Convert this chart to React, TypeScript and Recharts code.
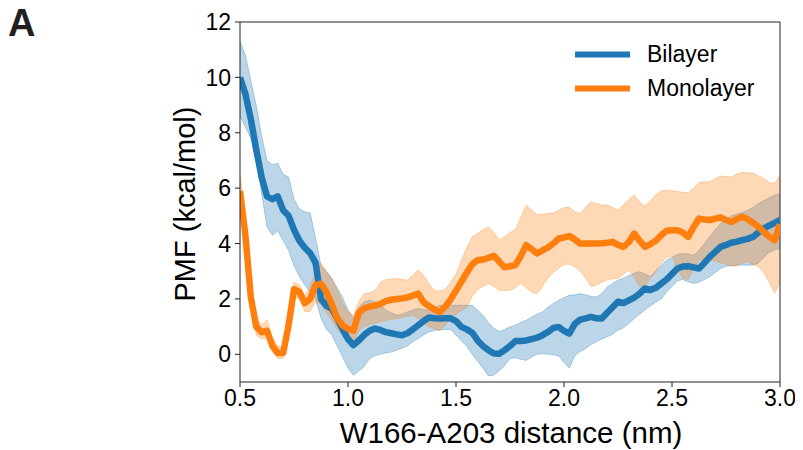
import { ComposedChart, Area, Line, XAxis, YAxis, ReferenceLine } from "recharts";

// W166-A203 distance grid (nm)
const distance = [
  0.5, 0.525, 0.55, 0.575, 0.6, 0.625, 0.65, 0.675, 0.7, 0.725,
  0.75, 0.775, 0.8, 0.825, 0.85, 0.875, 0.9, 0.925, 0.95, 0.975,
  1.0, 1.025, 1.05, 1.075, 1.1, 1.125, 1.15, 1.175, 1.2, 1.225,
  1.25, 1.275, 1.3, 1.325, 1.35, 1.375, 1.4, 1.425, 1.45, 1.475,
  1.5, 1.525, 1.55, 1.575, 1.6, 1.625, 1.65, 1.675, 1.7, 1.725,
  1.75, 1.775, 1.8, 1.825, 1.85, 1.875, 1.9, 1.925, 1.95, 1.975,
  2.0, 2.025, 2.05, 2.075, 2.1, 2.125, 2.15, 2.175, 2.2, 2.225,
  2.25, 2.275, 2.3, 2.325, 2.35, 2.375, 2.4, 2.425, 2.45, 2.475,
  2.5, 2.525, 2.55, 2.575, 2.6, 2.625, 2.65, 2.675, 2.7, 2.725,
  2.75, 2.775, 2.8, 2.825, 2.85, 2.875, 2.9, 2.925, 2.95, 2.975,
  3.0,
];

// PMF (kcal/mol)
const bilayer = [
  10.0, 9.4, 8.5, 7.4, 6.4, 5.7, 5.6, 5.7, 5.2, 5.0,
  4.5, 4.1, 3.85, 3.65, 3.3, 2.0, 1.75, 1.65, 1.3, 0.9,
  0.55, 0.33, 0.5, 0.7, 0.85, 0.93, 0.88, 0.8, 0.76, 0.72,
  0.69, 0.76, 0.9, 1.05, 1.2, 1.33, 1.3, 1.29, 1.3, 1.3,
  1.2, 0.99, 0.9, 0.78, 0.5, 0.3, 0.15, 0.03, 0.02, 0.15,
  0.3, 0.48, 0.48, 0.5, 0.55, 0.6, 0.69, 0.8, 0.95, 0.99,
  0.85, 0.75, 1.1, 1.25, 1.3, 1.35, 1.3, 1.29, 1.5, 1.7,
  1.9, 1.85, 1.95, 2.05, 2.19, 2.38, 2.32, 2.4, 2.55, 2.7,
  2.9, 3.1, 3.17, 3.18, 3.14, 3.1, 3.3, 3.52, 3.7, 3.88,
  3.95, 4.03, 4.07, 4.12, 4.17, 4.24, 4.4, 4.54, 4.65, 4.75,
  4.85,
];
const bilayerLo = [
  8.6, 8.2, 7.8, 7.0, 5.8, 4.6, 4.3, 4.45, 4.1, 3.75,
  3.2, 2.8, 2.5, 2.25, 2.0, 1.3, 0.9, 0.7, 0.3, -0.1,
  -0.5, -0.76, -0.6, -0.45, -0.15, -0.05, 0.0, 0.05, 0.08, 0.15,
  0.22, 0.3, 0.45, 0.57, 0.7, 0.81, 0.86, 0.87, 0.9, 0.9,
  0.7, 0.48, 0.3, 0.0, -0.25, -0.5, -0.78, -0.75, -0.6, -0.4,
  -0.15, -0.12, -0.18, -0.22, -0.1, 0.0, 0.02, 0.0, -0.02, -0.05,
  -0.3, -0.5, -0.05, 0.1, 0.2, 0.35, 0.45, 0.55, 0.63, 0.72,
  0.88, 0.95, 1.12, 1.28, 1.45, 1.6, 1.75, 1.88, 2.0, 2.25,
  2.45, 2.65, 2.7, 2.62, 2.56, 2.6, 2.7, 2.8, 2.95, 3.1,
  3.18, 3.2, 3.22, 3.22, 3.22, 3.22, 3.3, 3.5, 3.68, 3.78,
  3.82,
];
const bilayerHi = [
  11.3, 10.8, 9.9, 9.0, 7.9, 7.0, 6.85, 6.9, 6.5, 6.4,
  5.6, 5.25, 5.15, 5.1, 4.2, 3.2, 3.0, 2.75, 2.4, 2.05,
  1.6, 1.3, 1.7, 1.9, 1.95, 1.9, 1.8, 1.6, 1.5, 1.42,
  1.45, 1.53, 1.6, 1.65, 1.62, 1.6, 1.7, 1.77, 1.77, 1.77,
  1.77, 1.77, 1.77, 1.77, 1.6, 1.4, 1.15, 0.95, 0.82, 0.9,
  0.99, 1.05, 1.15, 1.23, 1.35, 1.45, 1.53, 1.7, 1.83, 1.95,
  2.05, 2.13, 2.15, 2.19, 2.15, 2.1, 2.07, 2.2, 2.43, 2.55,
  2.68, 2.75, 2.85, 2.93, 2.98, 2.9, 2.82, 3.0, 3.22, 3.4,
  3.5, 3.6, 3.64, 3.62, 3.58, 3.75, 4.0, 4.25, 4.5, 4.72,
  4.88, 5.0, 5.07, 5.12, 5.2, 5.3, 5.45, 5.55, 5.65, 5.75,
  5.8,
];

const monolayer = [
  5.9, 4.3, 2.07, 1.0, 0.8, 0.85, 0.3, 0.05, 0.05, 1.05,
  2.35, 2.25, 1.85, 2.0, 2.5, 2.55, 2.25, 1.8, 1.3, 1.05,
  0.92, 0.85, 1.5, 1.66, 1.72, 1.76, 1.82, 1.92, 1.97, 2.0,
  2.02, 2.05, 2.12, 2.19, 1.88, 1.74, 1.62, 1.53, 1.72, 1.98,
  2.3, 2.62, 2.95, 3.25, 3.4, 3.42, 3.48, 3.56, 3.35, 3.14,
  3.18, 3.22, 3.55, 3.94, 3.8, 3.64, 3.75, 3.85, 4.0, 4.18,
  4.22, 4.27, 4.15, 3.99, 4.0, 4.0, 4.0, 4.01, 4.03, 4.06,
  3.95, 3.88, 4.05, 4.36, 4.1, 3.88, 3.98, 4.1, 4.3, 4.46,
  4.48, 4.48, 4.4, 4.24, 4.6, 4.9, 4.87, 4.85, 4.9, 4.94,
  4.85, 4.78, 4.88, 4.97, 4.88, 4.75, 4.6, 4.42, 4.25, 4.12,
  4.7,
];
const monolayerLo = [
  5.4, 3.8, 1.7, 0.7, 0.55, 0.6, 0.1, -0.15, -0.15, 0.8,
  2.1, 2.0, 1.55, 1.55, 1.9, 1.8, 1.5, 1.25, 0.9, 0.7,
  0.5, 0.39, 0.85, 1.0, 1.08, 1.12, 1.18, 1.23, 1.26, 1.29,
  1.33, 1.37, 1.41, 1.3, 1.12, 1.0, 0.93, 0.87, 1.05, 1.3,
  1.45, 1.58, 1.7, 2.1, 2.35, 2.45, 2.56, 2.45, 2.31, 2.3,
  2.31, 2.4, 2.56, 2.4, 2.25, 2.19, 2.45, 2.75, 2.95, 3.1,
  3.25, 3.25, 3.16, 3.0, 2.75, 2.45, 2.5, 2.6, 2.7, 2.72,
  2.75, 2.9, 3.04, 2.8, 2.45, 2.5, 2.75, 2.98, 3.3, 3.5,
  3.55, 3.1, 2.75, 2.7, 3.1, 3.4, 3.4, 3.4, 3.38, 3.3,
  3.25, 3.18, 3.2, 3.3, 3.34, 3.25, 3.16, 2.95, 2.6, 2.2,
  2.6,
];
const monolayerHi = [
  6.5, 5.0, 2.5, 1.3, 1.05, 1.25, 0.6, 0.3, 0.25, 1.35,
  2.6, 2.5, 2.1, 2.45, 3.0, 3.3, 3.0, 2.7, 2.3, 1.85,
  1.55, 1.41, 1.9, 2.19, 2.22, 2.3, 2.6, 2.7, 2.72, 2.74,
  2.7, 2.68, 2.85, 3.04, 2.85, 2.55, 2.3, 2.28, 2.35, 2.6,
  2.9, 3.4, 3.85, 4.24, 4.36, 4.5, 4.6, 4.4, 4.12, 4.25,
  4.4, 4.5, 4.95, 5.39, 5.2, 5.05, 5.05, 5.09, 5.09, 5.2,
  5.3, 5.3, 5.15, 5.09, 5.3, 5.5, 5.45, 5.39, 5.39, 5.3,
  5.2, 5.4, 5.6, 5.75, 5.5, 5.35, 5.55, 5.75, 5.9, 5.93,
  5.9, 5.88, 5.85, 5.83, 6.0, 6.2, 6.23, 6.23, 6.35, 6.44,
  6.42, 6.4, 6.5, 6.57, 6.55, 6.55, 6.45, 6.35, 6.2, 6.17,
  6.47,
];

const xTicks = [0.5, 1.0, 1.5, 2.0, 2.5, 3.0];
const yTicks = [0, 2, 4, 6, 8, 10, 12];

const BLUE = "#1f77b4";
const ORANGE = "#ff7f0e";
const FONT = "'Liberation Sans', Arial, sans-serif";

export default function App() {
  const data = distance.map((x, i) => ({
    x,
    bilayer: bilayer[i],
    bilayerBand: [bilayerLo[i], bilayerHi[i]],
    monolayer: monolayer[i],
    monolayerBand: [monolayerLo[i], monolayerHi[i]],
  }));

  return (
    <div
      style={{
        position: "relative",
        width: 803,
        height: 450,
        marginLeft: -8,
        marginTop: -8,
        fontFamily: FONT,
        color: "#000",
      }}
    >
      <div style={{ position: "absolute", left: 8, top: 2, fontSize: 38, fontWeight: "bold", color: "#231f20" }}>A</div>

      <ComposedChart
        width={803}
        height={450}
        data={data}
        margin={{ top: 22, right: 23, bottom: 0, left: 0 }}
        style={{ fontFamily: FONT }}
      >
        <XAxis
          dataKey="x"
          type="number"
          domain={[0.5, 3]}
          ticks={xTicks}
          tickFormatter={(v: number) => v.toFixed(1)}
          height={68}
          stroke="#222"
          tickSize={5}
          tickMargin={3}
          tick={{ fontSize: 23, fill: "#000" }}
          allowDataOverflow
        />
        <YAxis
          type="number"
          domain={[-1, 12]}
          ticks={yTicks}
          width={240}
          stroke="#222"
          tickSize={5}
          tickMargin={4}
          tick={{ fontSize: 23, fill: "#000" }}
          allowDataOverflow
        />
        <ReferenceLine y={12} stroke="#222" />
        <ReferenceLine x={3} stroke="#222" />

        <Area
          dataKey="bilayerBand"
          type="linear"
          fill={BLUE}
          fillOpacity={0.3}
          stroke={BLUE}
          strokeOpacity={0.3}
          strokeWidth={1}
          isAnimationActive={false}
        />
        <Area
          dataKey="monolayerBand"
          type="linear"
          fill={ORANGE}
          fillOpacity={0.3}
          stroke={ORANGE}
          strokeOpacity={0.3}
          strokeWidth={1}
          isAnimationActive={false}
        />
        <Line
          dataKey="bilayer"
          type="linear"
          stroke={BLUE}
          strokeWidth={6.5}
          strokeLinejoin="round"
          dot={false}
          isAnimationActive={false}
        />
        <Line
          dataKey="monolayer"
          type="linear"
          stroke={ORANGE}
          strokeWidth={6.5}
          strokeLinejoin="round"
          dot={false}
          isAnimationActive={false}
        />
      </ComposedChart>

      {/* axis titles */}
      <div
        style={{
          position: "absolute",
          left: 185,
          top: 204,
          transform: "translate(-50%, -50%) rotate(-90deg)",
          fontSize: 29,
          whiteSpace: "nowrap",
        }}
      >
        PMF (kcal/mol)
      </div>
      <div
        style={{
          position: "absolute",
          left: 511,
          top: 433,
          transform: "translate(-50%, -50%)",
          fontSize: 29.5,
          whiteSpace: "nowrap",
        }}
      >
        W166-A203 distance (nm)
      </div>

      {/* legend */}
      {[
        { name: "Bilayer", color: BLUE, y: 54 },
        { name: "Monolayer", color: ORANGE, y: 88 },
      ].map((item) => (
        <div key={item.name} style={{ position: "absolute", left: 575, top: item.y, transform: "translateY(-50%)", display: "flex", alignItems: "center" }}>
          <div style={{ width: 55, height: 6, background: item.color }} />
          <span style={{ marginLeft: 17, fontSize: 23 }}>{item.name}</span>
        </div>
      ))}
    </div>
  );
}
